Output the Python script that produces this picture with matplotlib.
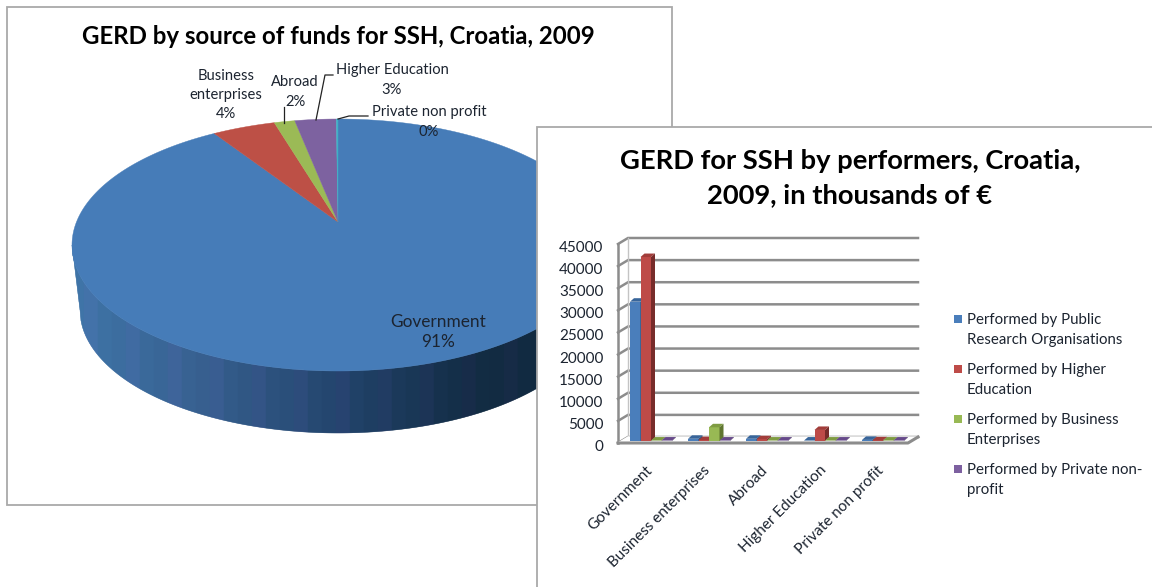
import numpy as np
import matplotlib
matplotlib.use('Agg')
import matplotlib.pyplot as plt
from matplotlib.patches import Polygon, Rectangle
from matplotlib.transforms import ScaledTranslation

W, H = 1152, 587

# pie data
pie_names = ['Government', 'Business\nenterprises', 'Abroad', 'Higher Education', 'Private non profit']
pie_shares = [92.3, 3.85, 1.25, 2.5, 0.1]
pie_labels = ['91%', '4%', '2%', '3%', '0%']
pie_colors = ['#467cb8', '#bd5046', '#9bba56', '#7d62a0', '#3fb0c6']

# bar data, thousands of euro
categories = ['Government', 'Business enterprises', 'Abroad', 'Higher Education', 'Private non profit']
public_org = [31500, 500, 500, 100, 250]
higher_ed = [41600, 200, 400, 2500, 150]
business = [100, 3100, 100, 100, 100]
private_np = [100, 100, 100, 100, 100]
y_ticks = [0, 5000, 10000, 15000, 20000, 25000, 30000, 35000, 40000, 45000]
series_names = ['Performed by Public\nResearch Organisations', 'Performed by Higher\nEducation',
                'Performed by Business\nEnterprises', 'Performed by Private non-\nprofit']
front_colors = ['#4a7ebb', '#be4b48', '#98b954', '#7d60a0']
top_colors = ['#38659a', '#a23d3a', '#7f9c42', '#66498a']
side_colors = ['#2c4d75', '#772c2a', '#5f7530', '#4d3b62']

TEXT = '#1c2430'
plt.rcParams['font.family'] = ['Lato', 'DejaVu Sans']

fig = plt.figure(figsize=(W / 100, H / 100), dpi=100, facecolor='white')

# whole-figure axes in pixel coordinates for the panels and the pie
bg = fig.add_axes([0, 0, 1, 1])
bg.set_xlim(0, W)
bg.set_ylim(H, 0)
bg.axis('off')

bg.add_patch(Rectangle((7, 7), 665, 498, fc='white', ec='#a9a9a9', lw=1.3, zorder=1))

# pie: top ellipse, lower ellipse of the wall, off-centre apex
cx, cy, rx, ry = 338, 245, 266, 126
cy2, rx2, ry2 = 310, 258, 123
apex = (338, 222)


def rim(t, x0, y0, a, b):
    return x0 + a * np.sin(t), y0 - b * np.cos(t)


def wall_edges(x):
    top_y = cy + ry * np.sqrt(max(1 - ((x - cx) / rx) ** 2, 0))
    if abs(x - cx) < rx2:
        low_y = cy2 + ry2 * np.sqrt(1 - ((x - cx) / rx2) ** 2)
    else:
        low_y = cy + (cy2 - cy) * (rx - abs(x - cx)) / (rx - rx2)
    return top_y, low_y


# wall of the pie, in vertical strips
strip_x = np.arange(72, 606, 1.0)
wall_stops = [72, 200, 340, 470, 600]
wall_r = [0x3f, 0x37, 0x22, 0x12, 0x10]
wall_g = [0x75, 0x60, 0x44, 0x2c, 0x28]
wall_b = [0xa8, 0x90, 0x6c, 0x44, 0x3c]
for x in strip_x:
    y0, y1 = wall_edges(x)
    y2, y3 = wall_edges(x + 1)
    band = int(x // 14)
    tint = 5 if band % 3 == 0 else 0
    xm = band * 14 + 7
    col = (np.interp(xm, wall_stops, wall_r) + tint) / 255, \
          np.interp(xm, wall_stops, wall_g) / 255, \
          (np.interp(xm, wall_stops, wall_b) + tint) / 255
    bg.add_patch(Polygon([(x, y0), (x + 1, y2), (x + 1, y3), (x, y1)], fc=col, ec=col, lw=0.3, zorder=2))

# wedges run clockwise from 12 o'clock, the biggest one first
start = 0.0
for share, col in zip(pie_shares, pie_colors):
    t = np.radians(np.linspace(start, start + share * 3.6, max(int(share * 4), 3)))
    xs, ys = rim(t, cx, cy, rx, ry)
    pts = [apex] + list(zip(xs, ys))
    bg.add_patch(Polygon(pts, fc=col, ec=col, lw=0.3, zorder=3))
    start += share * 3.6

bg.text(338, 36, 'GERD by source of funds for SSH, Croatia, 2009', fontsize=17.3, fontweight='bold',
        ha='center', va='center', color='black', zorder=5)

pie_label_pos = [(438, 332), (226, 95), (295, 92), (392, 80), (429, 122)]
pie_label_size = [12.4, 10.6, 10.6, 10.6, 10.6]
for name, lab, (px, py), fs in zip(pie_names, pie_labels, pie_label_pos, pie_label_size):
    bg.text(px, py, name + '\n' + lab, fontsize=fs, ha='center', va='center', color=TEXT,
            linespacing=1.5 if fs < 12 else 1.3, zorder=5)

# leader lines
bg.plot([284, 284], [107, 123], color='#222222', lw=0.9, zorder=4)
bg.plot([333, 325, 316], [75, 75, 120], color='#222222', lw=0.9, zorder=4)
bg.plot([368, 349, 338], [116, 116, 119], color='#222222', lw=0.9, zorder=4)

# second panel sits over the first one
bg.add_patch(Rectangle((537, 127), W, H, fc='white', ec='#a9a9a9', lw=1.3, zorder=6))
bg.text(850, 178, 'GERD for SSH by performers, Croatia,\n2009, in thousands of €', fontsize=19.7,
        fontweight='bold', ha='center', va='center', color='black', linespacing=1.5, zorder=7)

# legend, marker next to the first line of each entry
for i, (name, col) in enumerate(zip(series_names, front_colors)):
    ly = 319 + 50 * i
    bg.add_patch(Rectangle((954, ly - 4), 8, 8, fc=col, ec='none', zorder=7))
    bg.text(967, ly + 11, name, fontsize=10.8, ha='left', va='center', color=TEXT, linespacing=1.5, zorder=7)

# bar axes, the 3d walls are drawn in its data units
left, right, bottom, top = 622, 912, 441, 242
ax = fig.add_axes([left / W, 1 - bottom / H, (right - left) / W, (bottom - top) / H], zorder=3)
ax.patch.set_alpha(0)
ax.set_xlim(-0.5, 4.5)
ax.set_ylim(0, 45000)
for s in ax.spines.values():
    s.set_visible(False)

px_x = 1 / 58
px_y = 45000 / (bottom - top)
grid_col = '#8c8c8c'
wall_dx, wall_dy = 10 * px_x, 6 * px_y
x_front0, x_front1 = -0.5 - 4 * px_x, 4.5 - 4 * px_x
y_front0 = -2 * px_y
for v in y_ticks:
    yf = v + y_front0
    yb = yf + wall_dy
    ax.plot([x_front0, x_front0 + wall_dx, x_front1 + wall_dx], [yf, yb, yb], color=grid_col, lw=1.8,
            clip_on=False, zorder=1, solid_joinstyle='miter')
ax.plot([x_front0, x_front0], [y_front0, 45000 + y_front0], color=grid_col, lw=1.8, clip_on=False, zorder=1)
ax.plot([x_front0 + wall_dx, x_front0 + wall_dx], [y_front0 + wall_dy, 45000 + y_front0 + wall_dy],
        color='#c4c4c4', lw=1, clip_on=False, zorder=1)
ax.fill([x_front0, x_front1, x_front1 + wall_dx, x_front0 + wall_dx],
        [y_front0, y_front0, y_front0 + wall_dy, y_front0 + wall_dy], color='white', zorder=1, clip_on=False)
ax.plot([x_front0, x_front1, x_front1 + wall_dx], [y_front0, y_front0, y_front0 + wall_dy], color=grid_col,
        lw=2.2, clip_on=False, zorder=1)

series = [public_org, higher_ed, business, private_np]
bar_w = 10.5 * px_x
dx, dy = 4 * px_x, 3.5 * px_y
x_pos = np.arange(len(categories))
for k, vals in enumerate(series):
    xs = x_pos - 2 * bar_w + k * bar_w
    ax.bar(xs, vals, width=bar_w, align='edge', color=front_colors[k], zorder=3 + k, clip_on=False)
    for x, v in zip(xs, vals):
        ax.fill([x, x + bar_w, x + bar_w + dx, x + dx], [v, v, v + dy, v + dy], color=top_colors[k],
                zorder=3 + k, clip_on=False, lw=0)
        ax.fill([x + bar_w, x + bar_w + dx, x + bar_w + dx, x + bar_w], [0, dy, v + dy, v],
                color=side_colors[k], zorder=3 + k, clip_on=False, lw=0)

ax.set_yticks(y_ticks)
ax.set_yticklabels([str(v) for v in y_ticks], fontsize=11, color=TEXT)
ax.set_xticks(x_pos)
ax.set_xticklabels(categories, fontsize=11, color=TEXT, rotation=45, ha='right', rotation_mode='anchor')
ax.tick_params(axis='both', length=0)
ax.tick_params(axis='y', pad=13.5)
ax.tick_params(axis='x', pad=16)

shift_y = ScaledTranslation(0, -4.5 / 100, fig.dpi_scale_trans)
shift_x = ScaledTranslation(-6 / 100, 0, fig.dpi_scale_trans)
for lab in ax.get_yticklabels():
    lab.set_transform(lab.get_transform() + shift_y)
for lab in ax.get_xticklabels():
    lab.set_transform(lab.get_transform() + shift_x)

fig.savefig('out.png', dpi=100)
